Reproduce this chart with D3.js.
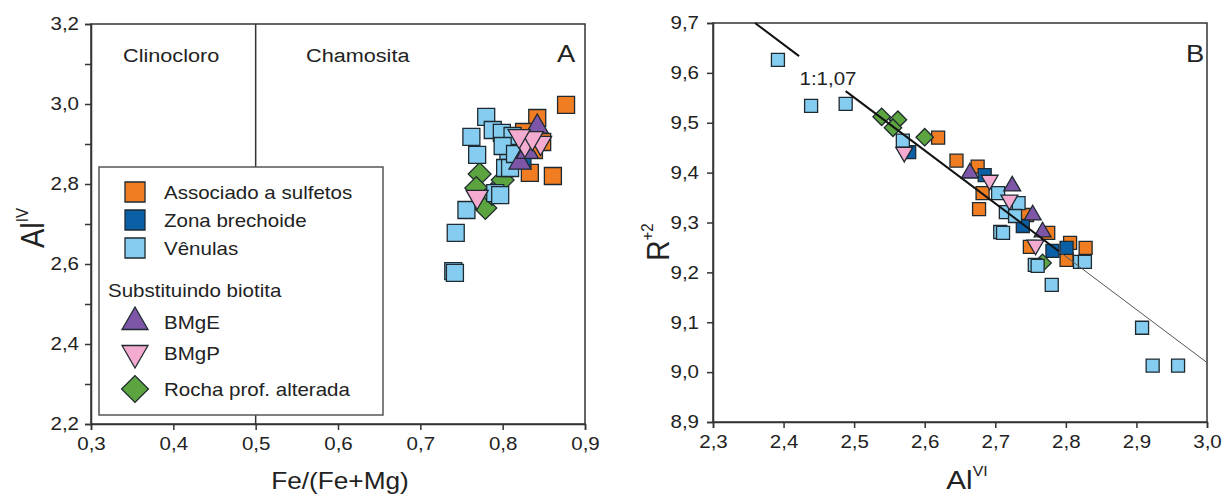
<!DOCTYPE html>
<html>
<head>
<meta charset="utf-8">
<script src="https://cdn.jsdelivr.net/npm/d3@7"></script>
<style>
  body { margin: 0; background: #fff; }
  text { font-family: "Liberation Sans", Arial, sans-serif; fill: #222; }
</style>
</head>
<body>
<svg id="chart" width="1227" height="497"></svg>
<script>
// series (same order in both panels)
const seriesNames = ["Associado a sulfetos", "Zona brechoide", "Vênulas", "BMgE", "BMgP", "Rocha prof. alterada"]
const seriesColors = ["#f07d22", "#0b5fa5", "#85cdf0", "#7d56a8", "#f3abcf", "#5ca43f"]
const seriesShapes = ["square", "square", "square", "triUp", "triDown", "diamond"]

// panel A: Fe/(Fe+Mg) vs Al(IV)
const sulfetosA = [[0.877, 2.998], [0.842, 2.965], [0.833, 2.828], [0.861, 2.820], [0.848, 2.905], [0.826, 2.930], [0.838, 2.885]]
const brechoideA = [[0.818, 2.905], [0.824, 2.860]]
const venulasA = [[0.780, 2.968], [0.788, 2.935], [0.762, 2.918], [0.799, 2.928], [0.769, 2.873], [0.807, 2.865],
  [0.803, 2.840], [0.791, 2.777], [0.797, 2.772], [0.756, 2.735], [0.743, 2.678], [0.740, 2.582], [0.742, 2.578],
  [0.812, 2.920], [0.809, 2.840], [0.800, 2.895], [0.815, 2.875]]
const bmgeA = [[0.842, 2.943], [0.821, 2.853], [0.830, 2.880]]
const bmgpA = [[0.827, 2.898], [0.846, 2.903], [0.836, 2.915], [0.769, 2.768], [0.820, 2.920]]
const rochaA = [[0.772, 2.825], [0.768, 2.790], [0.779, 2.740], [0.787, 2.775], [0.800, 2.810]]

// panel B: Al(VI) vs R+2
const sulfetosB = [[2.619, 9.470], [2.645, 9.424], [2.675, 9.412], [2.682, 9.359], [2.677, 9.327], [2.745, 9.315],
  [2.775, 9.279], [2.749, 9.251], [2.806, 9.259], [2.801, 9.225], [2.828, 9.249]]
const brechoideB = [[2.578, 9.441], [2.685, 9.395], [2.739, 9.293], [2.781, 9.243], [2.801, 9.249]]
const venulasB = [[2.392, 9.626], [2.439, 9.534], [2.488, 9.538], [2.569, 9.464], [2.704, 9.359], [2.733, 9.339],
  [2.715, 9.321], [2.728, 9.313], [2.707, 9.281], [2.711, 9.279], [2.756, 9.215], [2.760, 9.213], [2.780, 9.175],
  [2.820, 9.221], [2.827, 9.221], [2.908, 9.089], [2.923, 9.013], [2.959, 9.013]]
const bmgeB = [[2.664, 9.399], [2.724, 9.373], [2.753, 9.315], [2.767, 9.281]]
const bmgpB = [[2.571, 9.441], [2.692, 9.385], [2.757, 9.255], [2.720, 9.345]]
const rochaB = [[2.539, 9.512], [2.562, 9.506], [2.555, 9.490], [2.600, 9.471], [2.767, 9.219]]

// 1:1,07 trend line: thick part, gap for the label, thick part, thin part
const trendStart = [2.3595, 9.7]
const trendSlope = -1.063
const trendThick = [[2.3595, 2.422], [2.488, 2.79]]
const trendThin = [2.79, 3.0]

const xTicksA = [0.3, 0.4, 0.5, 0.6, 0.7, 0.8, 0.9]
const yTicksA = [2.2, 2.3, 2.4, 2.5, 2.6, 2.7, 2.8, 2.9, 3.0, 3.1, 3.2]
const xTicksB = [2.3, 2.4, 2.5, 2.6, 2.7, 2.8, 2.9, 3.0]
const yTicksB = [8.9, 9.0, 9.1, 9.2, 9.3, 9.4, 9.5, 9.6, 9.7]

const SX = 1.14  // the source figure's lettering is a bit wide
const comma = v => d3.format(".1f")(v).replace(".", ",")

const svg = d3.select("#chart")

function txt(g, x, y, s, size, anchor) {
  return g.append("text")
    .attr("transform", `translate(${x},${y}) scale(${SX},1)`)
    .attr("font-size", size)
    .attr("text-anchor", anchor || "start")
    .text(s)
}

function symbolPath(shape, s) {
  if (shape == "square") return d3.symbol(d3.symbolSquare, s * s)()
  if (shape == "diamond") return d3.symbol(d3.symbolSquare, s * s * 0.9)()
  const side = s * 1.3
  return d3.symbol(d3.symbolTriangle, Math.sqrt(3) / 4 * side * side)()
}
function symbolRot(shape) {
  if (shape == "triDown") return " rotate(180)"
  if (shape == "diamond") return " rotate(45)"
  return ""
}

function drawPoints(g, x, y, sets, size) {
  // drawing order: orange, dark blue, green, light blue, purple, pink
  const order = [0, 1, 5, 2, 3, 4]
  order.forEach(i => {
    g.selectAll(null)
      .data(sets[i])
      .enter().append("path")
        .attr("d", symbolPath(seriesShapes[i], size))
        .attr("transform", d => `translate(${x(d[0])},${y(d[1])})` + symbolRot(seriesShapes[i]))
        .attr("fill", seriesColors[i])
        .attr("stroke", "#1f2a30")
        .attr("stroke-width", 1.3)
  })
}

function styleAxis(g) {
  g.select(".domain").attr("stroke", "#333").attr("stroke-width", 1.5)
  g.selectAll(".tick line").attr("stroke", "#333").attr("stroke-width", 1.5)
  g.selectAll(".tick text")
    .attr("font-family", '"Liberation Sans", Arial, sans-serif')
    .attr("font-size", 18)
    .attr("fill", "#333")
}

// ---------------- panel A ----------------
const xA = d3.scaleLinear().domain([0.3, 0.9]).range([91, 585])
const yA = d3.scaleLinear().domain([2.2, 3.2]).range([424, 24])
const gA = svg.append("g")

gA.append("rect")
  .attr("x", xA(0.3)).attr("y", yA(3.2))
  .attr("width", xA(0.9) - xA(0.3)).attr("height", yA(2.2) - yA(3.2))
  .attr("fill", "none").attr("stroke", "#333").attr("stroke-width", 1.5)

gA.append("line")
  .attr("x1", xA(0.5)).attr("x2", xA(0.5))
  .attr("y1", yA(3.2)).attr("y2", yA(2.2))
  .attr("stroke", "#333").attr("stroke-width", 1.5)

const xAxisA = gA.append("g")
  .attr("transform", `translate(0,${yA(2.2)})`)
  .call(d3.axisBottom(xA).tickValues(xTicksA).tickFormat(comma).tickSize(6).tickPadding(7))
styleAxis(xAxisA)
xAxisA.selectAll(".tick text").attr("transform", `scale(${SX},1)`)

const yAxisA = gA.append("g")
  .attr("transform", `translate(${xA(0.3)},0)`)
  .call(d3.axisLeft(yA).tickValues(yTicksA)
    .tickFormat(v => Math.round(v * 10) % 2 == 0 ? comma(v) : "").tickSize(6).tickPadding(9))
styleAxis(yAxisA)
yAxisA.selectAll(".tick text").attr("x", -12 / SX).attr("transform", `scale(${SX},1)`)

txt(gA, 123, 62, "Clinocloro", 19)
txt(gA, 306, 62, "Chamosita", 19)
txt(gA, 566, 62, "A", 24, "middle")

// legend
const leg = gA.append("g")
leg.append("rect")
  .attr("x", 99).attr("y", 167).attr("width", 284).attr("height", 248)
  .attr("fill", "#fff").attr("stroke", "#555").attr("stroke-width", 1.5)
const legRows = [192, 220, 248, null, 322, 353, 389]
seriesNames.forEach((name, i) => {
  const ry = legRows[i < 3 ? i : i + 1]
  leg.append("path")
    .attr("d", symbolPath(seriesShapes[i], 20))
    .attr("transform", `translate(135,${ry})` + symbolRot(seriesShapes[i]))
    .attr("fill", seriesColors[i]).attr("stroke", "#1f2a30").attr("stroke-width", 1.3)
  txt(leg, 164, ry + 7, name, 18)
})
txt(leg, 108, 297, "Substituindo biotita", 18)

drawPoints(gA, xA, yA, [sulfetosA, brechoideA, venulasA, bmgeA, bmgpA, rochaA], 17)

// axis titles A
const tA = gA.append("text")
  .attr("transform", `translate(44,228) rotate(-90) scale(1,${SX})`)
  .attr("text-anchor", "middle")
tA.append("tspan").attr("font-size", 29).text("Al")
tA.append("tspan").attr("font-size", 15).attr("dy", -14).text("IV")

txt(gA, 340, 489, "Fe/(Fe+Mg)", 23, "middle")

// ---------------- panel B ----------------
const xB = d3.scaleLinear().domain([2.3, 3.0]).range([713, 1207])
const yB = d3.scaleLinear().domain([8.9, 9.7]).range([422, 23])
const gB = svg.append("g")

gB.append("rect")
  .attr("x", xB(2.3)).attr("y", yB(9.7))
  .attr("width", xB(3.0) - xB(2.3)).attr("height", yB(8.9) - yB(9.7))
  .attr("fill", "none").attr("stroke", "#333").attr("stroke-width", 1.5)

const xAxisB = gB.append("g")
  .attr("transform", `translate(0,${yB(8.9)})`)
  .call(d3.axisBottom(xB).tickValues(xTicksB).tickFormat(comma).tickSize(6).tickPadding(7))
styleAxis(xAxisB)
xAxisB.selectAll(".tick text").attr("transform", `scale(${SX},1)`)

const yAxisB = gB.append("g")
  .attr("transform", `translate(${xB(2.3)},0)`)
  .call(d3.axisLeft(yB).tickValues(yTicksB).tickFormat(comma).tickSize(6).tickPadding(9))
styleAxis(yAxisB)
yAxisB.selectAll(".tick text").attr("x", -14 / SX).attr("transform", `scale(${SX},1)`)

drawPoints(gB, xB, yB, [sulfetosB, brechoideB, venulasB, bmgeB, bmgpB, rochaB], 13)

const trendY = x => trendStart[1] + trendSlope * (x - trendStart[0])
trendThick.forEach(seg => {
  gB.append("line")
    .attr("x1", xB(seg[0])).attr("y1", yB(trendY(seg[0])))
    .attr("x2", xB(seg[1])).attr("y2", yB(trendY(seg[1])))
    .attr("stroke", "#111").attr("stroke-width", 2)
})
gB.append("line")
  .attr("x1", xB(trendThin[0])).attr("y1", yB(trendY(trendThin[0])))
  .attr("x2", xB(trendThin[1])).attr("y2", yB(trendY(trendThin[1])))
  .attr("stroke", "#555").attr("stroke-width", 1)

txt(gB, 828, 85, "1:1,07", 18, "middle")
txt(gB, 1195, 62, "B", 24, "middle")

const tB = gB.append("text")
  .attr("transform", `translate(669,242) rotate(-90) scale(1,${SX})`)
  .attr("text-anchor", "middle")
tB.append("tspan").attr("font-size", 28).text("R")
tB.append("tspan").attr("font-size", 15).attr("dy", -14).text("+2")

const tB2 = gB.append("text")
  .attr("transform", `translate(967,489) scale(${SX},1)`)
  .attr("text-anchor", "middle")
tB2.append("tspan").attr("font-size", 26).text("Al")
tB2.append("tspan").attr("font-size", 14).attr("dy", -13).text("VI")
</script>
</body>
</html>
